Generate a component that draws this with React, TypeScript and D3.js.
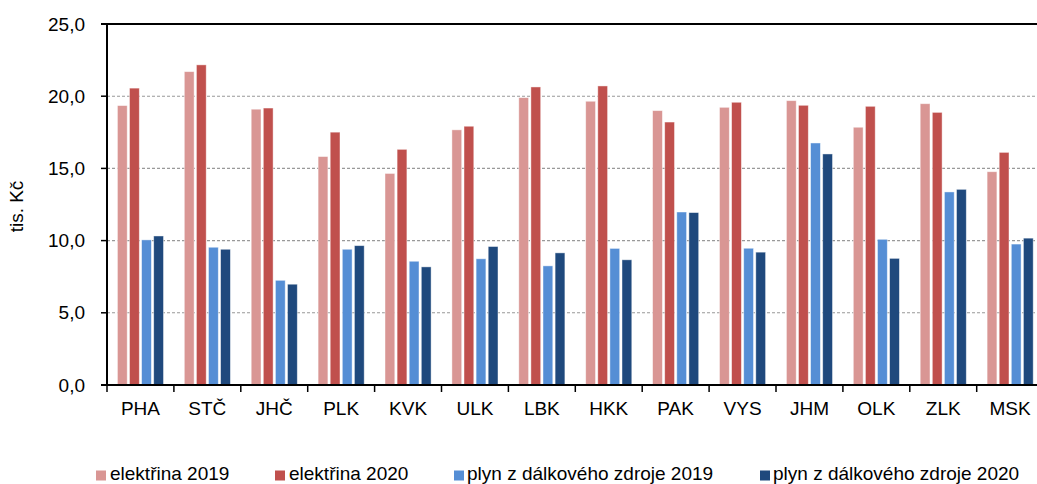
import React from "react";
import * as d3 from "d3";

const categories = ["PHA", "STČ", "JHČ", "PLK", "KVK", "ULK", "LBK", "HKK", "PAK", "VYS", "JHM", "OLK", "ZLK", "MSK"];
const seriesNames = ["elektřina 2019", "elektřina 2020", "plyn z dálkového zdroje 2019", "plyn z dálkového zdroje 2020"];
const elektrina2019 = [19.35, 21.7, 19.1, 15.82, 14.65, 17.67, 19.9, 19.65, 19.0, 19.23, 19.69, 17.85, 19.48, 14.77];
const elektrina2020 = [20.56, 22.17, 19.18, 17.51, 16.32, 17.92, 20.64, 20.71, 18.21, 19.58, 19.37, 19.3, 18.88, 16.11];
const plyn2019 = [10.05, 9.54, 7.25, 9.4, 8.57, 8.74, 8.25, 9.46, 11.98, 9.47, 16.76, 10.09, 13.37, 9.76];
const plyn2020 = [10.32, 9.4, 6.98, 9.65, 8.18, 9.59, 9.15, 8.67, 11.94, 9.2, 16.0, 8.77, 13.55, 10.17];
const yTicks = [0, 5, 10, 15, 20, 25];
const colors = ["#D99694", "#C0504D", "#558ED5", "#1F497D"];

const W = 1037;
const H = 484;
const left = 107;
const top = 24;
const bottom = 385;
const right = 107 + 14 * 66.9;

export default function App() {
  const values = [elektrina2019, elektrina2020, plyn2019, plyn2020];
  const x0 = d3.scaleBand<string>().domain(categories).range([left, right]).paddingInner(0.311).paddingOuter(0.1555);
  const x1 = d3.scaleBand<string>().domain(seriesNames).range([0, x0.bandwidth()]).paddingInner(0.19).paddingOuter(0);
  const y = d3.scaleLinear().domain([0, 25]).range([bottom, top]);
  const step = x0.step();
  const font = "Arial, 'Liberation Sans', sans-serif";
  const fs = 19;
  const fmt = (v: number) => v.toFixed(1).replace(".", ",");

  const legendPos = [
    { sx: 96, tx: 110 },
    { sx: 275, tx: 289 },
    { sx: 454, tx: 467 },
    { sx: 760, tx: 773 },
  ];

  return (
    <div style={{ position: "absolute", left: 0, top: 0 }}>
      <svg width={W} height={H} style={{ display: "block", background: "#fff" }}>
        {yTicks.filter((t) => t > 0 && t < 25).map((t) => (
          <line key={"g" + t} x1={left} x2={W} y1={y(t)} y2={y(t)} stroke="#999" strokeWidth={1.1} strokeDasharray="3,2" />
        ))}
        {categories.map((c, i) => (
          <g key={c}>
            {seriesNames.map((s, j) => {
              const v = values[j][i];
              const bx = (x0(c) as number) + (x1(s) as number);
              return (
                <rect
                  key={s}
                  x={bx}
                  y={y(v)}
                  width={x1.bandwidth()}
                  height={y(0) - y(v)}
                  fill={colors[j]}
                  stroke="rgba(255,255,255,0.55)"
                  strokeWidth={0.8}
                />
              );
            })}
          </g>
        ))}
        <line x1={left - 6} x2={W} y1={y(25)} y2={y(25)} stroke="#000" strokeWidth={2} />
        <line x1={left} x2={left} y1={y(25)} y2={bottom + 1} stroke="#000" strokeWidth={2} />
        {yTicks.map((t) => (
          <g key={"t" + t}>
            <line x1={left - 6} x2={left} y1={y(t)} y2={y(t)} stroke="#000" strokeWidth={1.5} />
            <text x={85} y={y(t)} dy="0.35em" textAnchor="end" fontFamily={font} fontSize={fs} fill="#000">
              {fmt(t)}
            </text>
          </g>
        ))}
        <line x1={left - 6} x2={W} y1={bottom} y2={bottom} stroke="#000" strokeWidth={2} />
        {categories.map((c, i) => {
          const bx = left + i * step;
          return (
            <g key={"x" + c}>
              <line x1={bx} x2={bx} y1={bottom} y2={bottom + 7} stroke="#000" strokeWidth={1.5} />
              <text x={(x0(c) as number) + x0.bandwidth() / 2} y={414.5} textAnchor="middle" fontFamily={font} fontSize={fs} fill="#000">
                {c}
              </text>
            </g>
          );
        })}
        <text transform={`translate(23, ${(top + bottom) / 2 + 2}) rotate(-90)`} textAnchor="middle" fontFamily={font} fontSize={fs} fill="#000">
          tis. Kč
        </text>
        {seriesNames.map((s, j) => (
          <g key={"l" + s}>
            <rect x={legendPos[j].sx} y={470.5} width={10} height={10} fill={colors[j]} />
            <text x={legendPos[j].tx} y={479.5} fontFamily={font} fontSize={fs} fill="#000">
              {s}
            </text>
          </g>
        ))}
      </svg>
    </div>
  );
}
